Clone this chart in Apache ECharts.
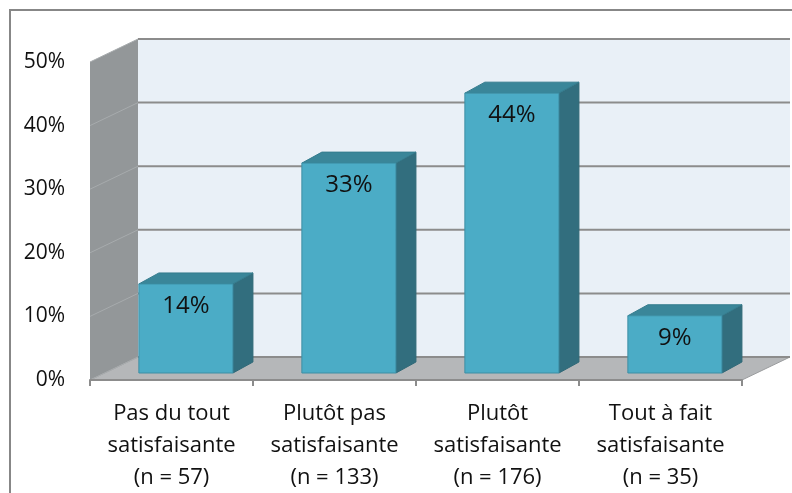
<!DOCTYPE html>
<html>
<head>
<meta charset="utf-8">
<script src="https://cdn.jsdelivr.net/npm/echarts@6/dist/echarts.min.js"></script>
<style>
  html, body { margin: 0; padding: 0; background: #fff; }
  #chart { width: 792px; height: 493px; }
</style>
</head>
<body>
<div id="chart"></div>
<script>
// données du graphique
const categories = [
  'Pas du tout\nsatisfaisante\n(n = 57)',
  'Plutôt pas\nsatisfaisante\n(n = 133)',
  'Plutôt\nsatisfaisante\n(n = 176)',
  'Tout à fait\nsatisfaisante\n(n = 35)'
]
const shares = [14, 33, 44, 9]
const yTicks = [0, 10, 20, 30, 40, 50]

// profondeur du décor 3D
const WALL = [48, -23]
const BAR_SHIFT = [14.4, -7]
const BAR_DEPTH = [20, -11]

const chart = echarts.init(document.getElementById('chart'))

// murs et sol
function renderWalls(params, api) {
  const cs = params.coordSys
  const xl = cs.x, xr = cs.x + cs.width
  const y0 = api.coord([0, 0])[1]
  const yTop = api.coord([0, yTicks[yTicks.length - 1]])[1]
  const dx = WALL[0], dy = WALL[1]
  return {
    type: 'group',
    children: [
      { // fond
        type: 'polygon',
        shape: { points: [[xl + dx, yTop + dy], [xr + dx, yTop + dy], [xr + dx, y0 + dy], [xl + dx, y0 + dy]] },
        style: { fill: '#e9f0f7' }
      },
      { // paroi gauche
        type: 'polygon',
        shape: { points: [[xl, yTop], [xl + dx, yTop + dy], [xl + dx, y0 + dy], [xl, y0]] },
        style: { fill: '#939799' }
      },
      { // sol
        type: 'polygon',
        shape: { points: [[xl, y0], [xr, y0], [xr + dx, y0 + dy], [xl + dx, y0 + dy]] },
        style: { fill: '#b5b7b9', stroke: '#9a9c9e', lineWidth: 1 }
      }
    ]
  }
}

// lignes de quadrillage
function renderGrid(params, api) {
  const cs = params.coordSys
  const xl = cs.x, xr = cs.x + cs.width
  const y = api.coord([0, api.value(1)])[1]
  const dx = WALL[0], dy = WALL[1]
  return {
    type: 'group',
    children: [
      {
        type: 'line',
        shape: { x1: xl + dx, y1: y + dy, x2: xr + dx, y2: y + dy },
        style: { stroke: '#8c8c8c', lineWidth: 2 }
      },
      {
        type: 'line',
        shape: { x1: xl, y1: y, x2: xl + dx, y2: y + dy },
        style: { stroke: '#a7abad', lineWidth: 1 }
      }
    ]
  }
}

// barres 3D
function renderBar(params, api) {
  const i = api.value(0), v = api.value(1)
  const base = api.coord([i, 0])
  const top = api.coord([i, v])
  const w = api.size([1, 0])[0] * 0.577
  const x0 = base[0] - w / 2 + BAR_SHIFT[0], x1 = x0 + w
  const yb = base[1] + BAR_SHIFT[1], yt = top[1] + BAR_SHIFT[1]
  const dx = BAR_DEPTH[0], dy = BAR_DEPTH[1]
  return {
    type: 'group',
    children: [
      {
        type: 'polygon',
        shape: { points: [[x1, yt], [x1 + dx, yt + dy], [x1 + dx, yb + dy], [x1, yb]] },
        style: { fill: '#326e7e', stroke: '#2f6877', lineWidth: 1 }
      },
      {
        type: 'polygon',
        shape: { points: [[x0, yt], [x0 + dx, yt + dy], [x1 + dx, yt + dy], [x1, yt]] },
        style: { fill: '#3a8699', stroke: '#357c8e', lineWidth: 1 }
      },
      {
        type: 'rect',
        shape: { x: x0, y: yt, width: w, height: yb - yt },
        style: { fill: '#4bacc6', stroke: '#3d8fa5', lineWidth: 1 }
      },
      {
        type: 'text',
        x: (x0 + x1) / 2,
        y: yt + 22,
        style: {
          text: v + '%',
          fill: '#111',
          font: '24px "Open Sans"',
          align: 'center',
          verticalAlign: 'middle'
        }
      }
    ]
  }
}

const options = {
  animation: false,
  grid: { left: 90, right: 50, top: 62, bottom: 113, outerBoundsMode: 'none' },
  xAxis: {
    type: 'category',
    data: categories,
    axisLine: { lineStyle: { color: '#8c8c8c', width: 2 } },
    axisTick: { show: true, length: 6, lineStyle: { color: '#8c8c8c', width: 2 } },
    axisLabel: {
      interval: 0,
      margin: 18,
      color: '#111',
      fontFamily: 'Open Sans',
      fontSize: 22,
      lineHeight: 32
    },
    z: 5
  },
  yAxis: {
    type: 'value',
    min: 0,
    max: 50,
    interval: 10,
    axisLine: { show: false },
    axisTick: { show: false },
    splitLine: { show: false },
    axisLabel: {
      formatter: '{value}%',
      margin: 25,
      color: '#111',
      fontFamily: 'Open Sans',
      fontSize: 21
    }
  },
  graphic: [
    {
      type: 'rect',
      shape: { x: 10, y: 10, width: 900, height: 700 },
      style: { fill: 'none', stroke: '#878787', lineWidth: 2 },
      z: 0
    }
  ],
  series: [
    {
      type: 'custom',
      clip: false,
      z: 1,
      renderItem: renderWalls,
      data: [[0, 0]]
    },
    {
      type: 'custom',
      clip: false,
      z: 2,
      renderItem: renderGrid,
      data: yTicks.map(t => [0, t])
    },
    {
      type: 'custom',
      clip: false,
      z: 3,
      renderItem: renderBar,
      data: shares.map((s, i) => [i, s])
    }
  ]
}
chart.setOption(options)
</script>
</body>
</html>
